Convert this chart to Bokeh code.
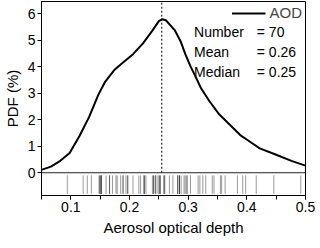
from bokeh.plotting import figure
from bokeh.models import Range1d, FixedTicker, SingleIntervalTicker, Span, Label
from bokeh.core.properties import value
from bokeh.embed import file_html
from bokeh.resources import INLINE

# Kernel density curve of AOD, PDF in %
curve_x = [0.050, 0.066, 0.082, 0.098, 0.115, 0.131, 0.147, 0.158, 0.174, 0.190,
           0.206, 0.223, 0.239, 0.250, 0.256, 0.262, 0.277, 0.287, 0.295, 0.304,
           0.312, 0.322, 0.336, 0.352, 0.368, 0.390, 0.406, 0.422, 0.449, 0.476, 0.500]
curve_y = [0.11, 0.23, 0.45, 0.75, 1.40, 2.10, 2.95, 3.42, 3.88, 4.18,
           4.48, 4.89, 5.37, 5.73, 5.80, 5.76, 5.39, 4.97, 4.49, 4.02,
           3.66, 3.19, 2.71, 2.23, 1.88, 1.40, 1.16, 0.92, 0.69, 0.45, 0.27]

# Individual AOD observations (rug)
aod_samples = [0.094, 0.121, 0.128, 0.135, 0.148, 0.149, 0.151, 0.152, 0.160, 0.166,
               0.171, 0.177, 0.179, 0.185, 0.189, 0.194, 0.197, 0.206, 0.216, 0.219,
               0.225, 0.228, 0.239, 0.241, 0.244, 0.247, 0.250, 0.252, 0.258, 0.260,
               0.268, 0.274, 0.282, 0.285, 0.288, 0.293, 0.295, 0.298, 0.304, 0.317,
               0.320, 0.325, 0.330, 0.341, 0.344, 0.355, 0.357, 0.363, 0.384, 0.393,
               0.398, 0.416, 0.446, 0.492,
               0.151, 0.152, 0.225, 0.225, 0.252, 0.252, 0.285, 0.285, 0.282, 0.197,
               0.244, 0.166, 0.189, 0.241, 0.298, 0.260]

peak_aod = 0.255
stat_names = ["Number", "Mean", "Median"]
stat_values = ["= 70", "= 0.26", "= 0.25"]
y_ticks = [0, 1, 2, 3, 4, 5, 6]

FONT = "Liberation Sans"

p = figure(frame_width=264, frame_height=194, output_backend="svg", toolbar_location=None,
           x_range=Range1d(0.05, 0.5), y_range=Range1d(-0.86, 6.47),
           min_border_left=0, min_border_right=12, min_border_top=1, min_border_bottom=0)

p.xgrid.visible = False
p.ygrid.visible = False
p.outline_line_color = "black"
p.outline_line_alpha = 1
p.background_fill_color = "white"

# rug
p.segment(x0=aod_samples, y0=-0.8, x1=aod_samples, y1=-0.1,
          line_color="black", line_alpha=0.4, line_width=1)

# divider line between curve and rug
p.add_layout(Span(location=0, dimension="width", line_color="#222222", line_width=1))

# dotted line at the peak
p.segment(x0=[peak_aod], y0=[0], x1=[peak_aod], y1=[6.47],
          line_color="black", line_width=1, line_dash="2 2")

# curve
p.line(curve_x, curve_y, line_color="black", line_width=2, legend_label="AOD")

p.legend.location = "top_right"
p.legend.border_line_alpha = 0
p.legend.background_fill_alpha = 0
p.legend.label_text_font = FONT
p.legend.label_text_font_size = "15px"
p.legend.glyph_width = 34
p.legend.glyph_height = 16
p.legend.label_height = 16
p.legend.margin = 1
p.legend.padding = 2
p.legend.spacing = 0
p.legend.label_standoff = 4

for i, (nm, val) in enumerate(zip(stat_names, stat_values)):
    yy = 5.30 - i * 0.75
    p.add_layout(Label(x=0.31, y=yy, text=nm, text_font=FONT, text_font_size="14px",
                       text_baseline="middle", text_color="black"))
    p.add_layout(Label(x=0.417, y=yy, text=val, text_font=FONT, text_font_size="14px",
                       text_baseline="middle", text_color="black"))

# axes
p.xaxis.ticker = SingleIntervalTicker(interval=0.1, num_minor_ticks=2)
p.yaxis.ticker = FixedTicker(ticks=y_ticks)
p.xaxis.axis_label = "Aerosol optical depth"
p.yaxis.axis_label = "PDF (%)"
for ax in (p.xaxis[0], p.yaxis[0]):
    ax.axis_label_text_font = FONT
    ax.axis_label_text_font_size = "15px"
    ax.axis_label_text_font_style = "normal"
    ax.axis_label_text_color = "black"
    ax.major_label_text_font = FONT
    ax.major_label_text_font_size = "14px"
    ax.major_label_text_color = "black"
    ax.axis_line_color = "black"
    ax.major_tick_line_color = "black"
    ax.minor_tick_line_color = "black"
    ax.major_tick_in = 0
    ax.major_tick_out = 4
    ax.minor_tick_in = 0
    ax.minor_tick_out = 4
    ax.major_label_standoff = 2
    ax.axis_label_standoff = 4

open("out.html", "w").write(file_html(p, INLINE))
